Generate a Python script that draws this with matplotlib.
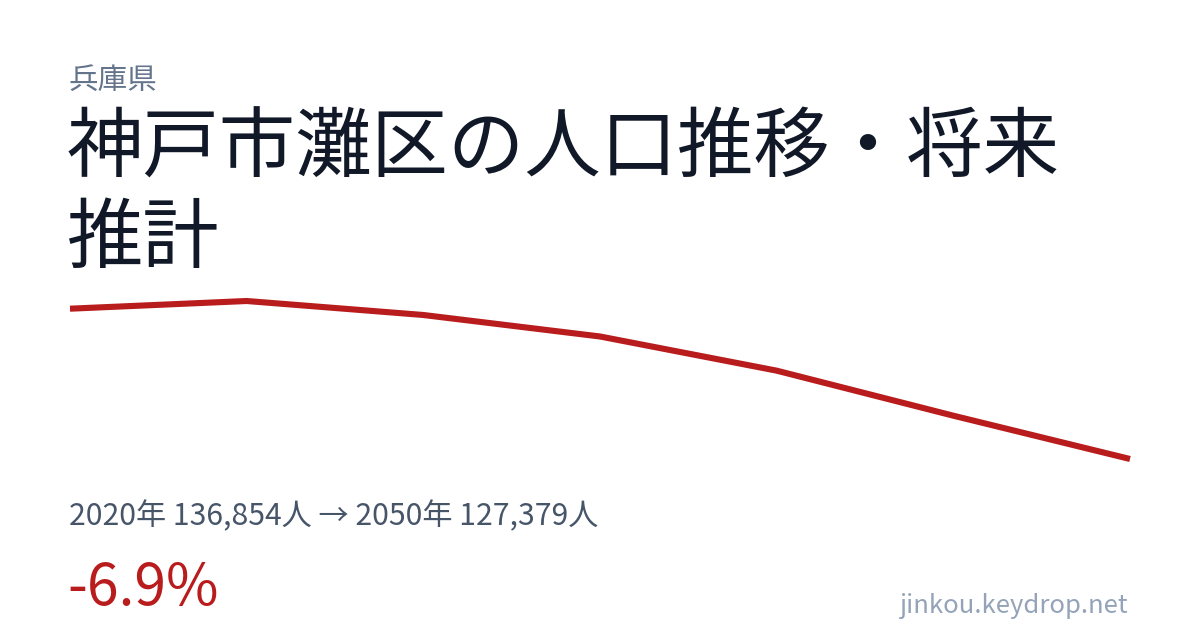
import matplotlib
matplotlib.use("Agg")
import matplotlib.pyplot as plt

plt.rcParams['font.family'] = ['Noto Sans CJK JP', 'DejaVu Sans']

years = [2020, 2025, 2030, 2035, 2040, 2045, 2050]
population = [136854, 137339, 136457, 135102, 132948, 130109, 127379]

prefecture = "兵庫県"
title_lines = ["神戸市灘区の人口推移・将来", "推計"]
summary = "2020年 136,854人 → 2050年 127,379人"
change = "-6.9%"
site = "jinkou.keydrop.net"

W, H = 1200, 630
fig = plt.figure(figsize=(W / 100, H / 100), dpi=100)
fig.patch.set_facecolor("white")

# line chart axes: x 70..1130 px, y 301..459 px
ax = fig.add_axes([70 / W, 1 - 459 / H, (1130 - 70) / W, (459 - 301) / H])
ax.plot(years, population, color="#b91c1c", lw=4.4, solid_capstyle="butt",
        solid_joinstyle="miter", clip_on=False)
ax.set_xlim(min(years), max(years))
ax.set_ylim(min(population), max(population))
ax.axis("off")

def px(x, y):
    return x / W, 1 - y / H

fig.text(*px(69, 80), prefecture, fontsize=21.3, color="#64748b", va="center", ha="left")
fig.text(*px(67, 150), title_lines[0], fontsize=55, color="#111827", va="center", ha="left")
fig.text(*px(67, 240), title_lines[1], fontsize=55, color="#111827", va="center", ha="left")
fig.text(*px(69, 517), summary, fontsize=21.7, color="#475569", va="center", ha="left")
fig.text(*px(67, 589), change, fontsize=41, color="#b91c1c", va="center", ha="left")
fig.text(*px(1128, 606), site, fontsize=18.5, color="#94a3b8", va="center", ha="right")

fig.savefig("out.png", dpi=100, facecolor="white")
